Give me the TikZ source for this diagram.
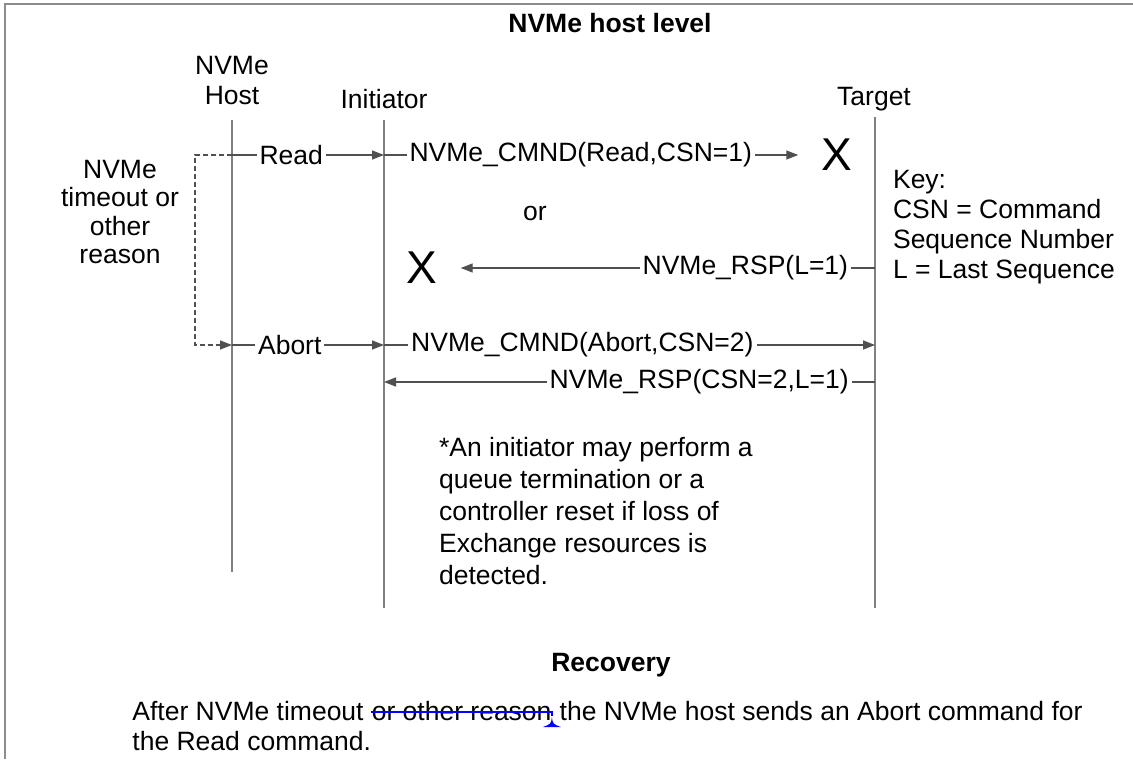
\documentclass[tikz,border=0pt]{standalone}
\usepackage{fontspec}
\setmainfont{Liberation Sans}
\usetikzlibrary{arrows.meta}
\definecolor{frameGray}{RGB}{140,140,140}
\definecolor{lifeGray}{RGB}{128,128,128}
\definecolor{msgGray}{RGB}{80,80,80}
\definecolor{editBlue}{RGB}{0,0,255}

\begin{document}
\begin{tikzpicture}[x=0.5pt, y=-0.5pt,
    every node/.style={font=\fontsize{13.25}{15}\selectfont},
    frame/.style={draw=frameGray, line width=1pt},
    lifeline/.style={draw=lifeGray, line width=0.75pt},
    msg/.style={-{Triangle[length=6pt, width=4.5pt]}, draw=msgGray, line width=0.7pt},
    loopback/.style={-{Triangle[length=6pt, width=4.5pt]}, draw=msgGray, line width=0.7pt, dash pattern=on 2.5pt off 1.5pt},
    lbl/.style={fill=white, inner xsep=1.5pt, inner ysep=0.5pt},
    lost/.style={font=\fontsize{23}{23}\selectfont, inner xsep=11.5pt, inner ysep=0pt},
    head/.style={font=\bfseries\fontsize{13.25}{15}\selectfont},
    textpart/.style={anchor=base west, inner sep=0pt}
  ]
  \useasboundingbox (0,0) rectangle (1133,759);
  \draw[frame] (5,759) -- (5,4) -- (1133,4);

  \node[head] (title) at (610,23) {NVMe host level};

  % Lifelines
  \node[align=center] (hostLbl) at (232,81) {NVMe\\Host};
  \node (initLbl) at (384,99) {Initiator};
  \node (tgtLbl) at (874,99) {Target};
  \coordinate (hostTop) at (232,120);
  \coordinate (hostEnd) at (232,572);
  \coordinate (initTop) at (384,120);
  \coordinate (initEnd) at (384,608);
  \coordinate (tgtTop) at (875,117);
  \coordinate (tgtEnd) at (875,608);
  \draw[lifeline] (hostTop) -- (hostEnd);
  \draw[lifeline] (initTop) -- (initEnd);
  \draw[lifeline] (tgtTop) -- (tgtEnd);

  % Message end points
  \coordinate (hRead) at (232,155);
  \coordinate (iRead) at (384,155);
  \coordinate (loopTop) at (195,155);
  \coordinate (tRsp1) at (875,268);
  \coordinate (hAbort) at (232,345);
  \coordinate (iAbort) at (384,345);
  \coordinate (tAbort) at (875,345);
  \coordinate (tRsp2) at (875,382);
  \coordinate (iRsp2) at (384,382);

  \node[lost] (lostCmd) at (837,155) {X};
  \node[lost] (lostRsp) at (422,268) {X};
  \node (orLbl) at (535,213) {or};

  % Messages
  \draw[msg] (hRead) -- node[lbl, pos=0.39] {Read} (iRead);
  \draw[msg] (iRead) -- node[lbl, pos=0.475] {NVMe\_CMND(Read,CSN=1)} (lostCmd.west);
  \draw[msg] (tRsp1) -- node[lbl, pos=0.313] {NVMe\_RSP(L=1)} (lostRsp.east);
  \draw[msg] (hAbort) -- node[lbl, pos=0.38] {Abort} (iAbort);
  \draw[msg] (iAbort) -- node[lbl, pos=0.404] {NVMe\_CMND(Abort,CSN=2)} (tAbort);
  \draw[msg] (tRsp2) -- node[lbl, pos=0.358] {NVMe\_RSP(CSN=2,L=1)} (iRsp2);
  \draw[loopback] (hRead) -- (loopTop) |- (hAbort);

  % Notes
  \node[align=center, font=\fontsize{13.25}{14.25}\selectfont] (reason) at (120,212) {NVMe\\timeout or\\other\\reason};
  \node[align=left, anchor=west] (key) at (886,227) {Key:\\CSN = Command\\Sequence Number\\L = Last Sequence};
  \node[align=left, anchor=west, font=\fontsize{13.25}{16}\selectfont] (note) at (432,511) {*An initiator may perform a\\queue termination or a\\controller reset if loss of\\Exchange resources is\\detected.};

  % Recovery
  \node[head] (recov) at (611,665) {Recovery};
  \node[textpart] (sumA) at (132,720) {After NVMe timeout\mbox{\ }};
  \node[textpart] (sumB) at (sumA.base east) {or other reason};
  \node[textpart] (sumC) at (sumB.base east) {\mbox{\ }the NVMe host sends an Abort command for};
  \node[textpart] (sumD) at (132,750) {the Read command.};
  \draw[editBlue, line width=1pt] ([yshift=4pt]sumB.base west) -- ([yshift=4pt]sumB.base east) -- ([yshift=2pt]sumB.base east);
  \fill[editBlue] ([yshift=1.5pt]sumB.base east) .. controls ([xshift=0.5pt, yshift=-2pt]sumB.base east) .. ([xshift=4.5pt, yshift=-3.5pt]sumB.base east) -- ([xshift=-4.5pt, yshift=-3.5pt]sumB.base east) .. controls ([xshift=-0.5pt, yshift=-2pt]sumB.base east) .. ([yshift=1.5pt]sumB.base east);
\end{tikzpicture}
\end{document}
